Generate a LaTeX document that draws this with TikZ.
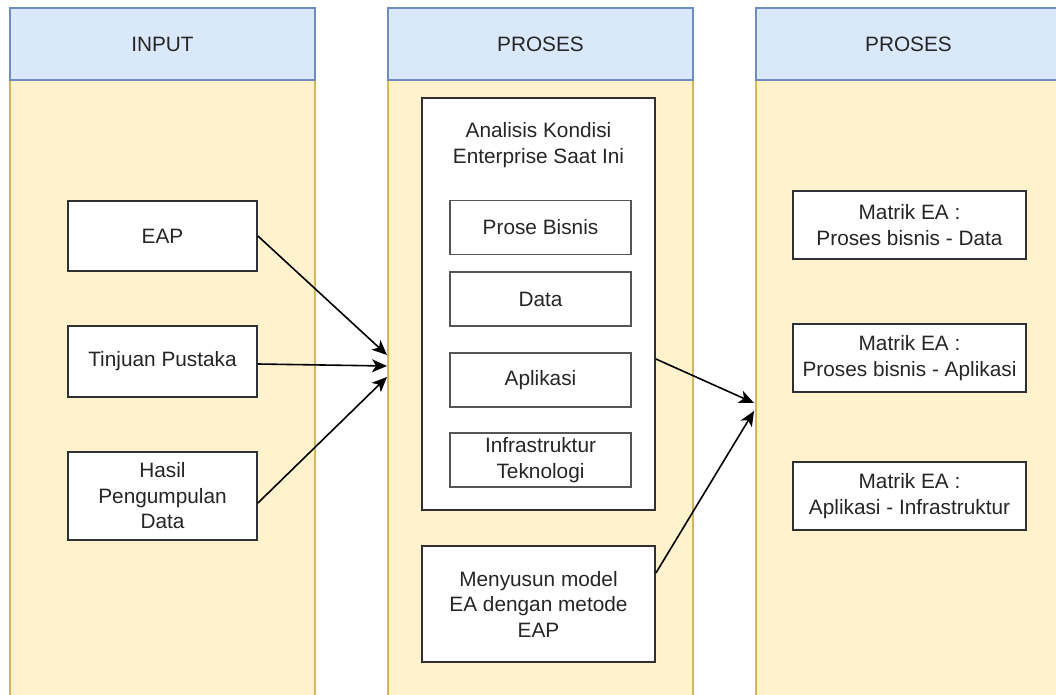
\documentclass[tikz,border=0pt]{standalone}
\usepackage{fontspec}
\setmainfont{Liberation Sans}
\usetikzlibrary{arrows.meta}
\definecolor{hdrfill}{HTML}{DAE8FC}
\definecolor{hdrline}{HTML}{6C8EBF}
\definecolor{lanefill}{HTML}{FFF2CC}
\definecolor{laneline}{HTML}{D6B656}
\definecolor{boxline}{HTML}{2E3033}
\definecolor{subline}{HTML}{555555}
\definecolor{txt}{HTML}{262626}
\tikzset{
  every node/.style={font=\fontsize{20.8}{25.5}\selectfont, text=txt, align=center, inner sep=0pt},
  lanehead/.style={draw=hdrline, fill=hdrfill, line width=1.3pt, minimum width=305pt, minimum height=72pt},
  lanebody/.style={draw=laneline, fill=lanefill, line width=1.3pt, minimum width=305pt, minimum height=630pt},
  itembox/.style={draw=boxline, fill=white, line width=1.8pt},
  subbox/.style={draw=subline, fill=white, line width=1.8pt, minimum width=181pt, minimum height=54pt},
  flow/.style={draw=black, line width=1.6pt, -{Stealth[length=15pt,width=13pt,inset=4pt]}}
}
\begin{document}
\begin{tikzpicture}[x=1pt,y=-1pt]
\useasboundingbox (0,0) rectangle (1056,695);
\clip (0,0) rectangle (1056,695);

% lanes
\node[lanebody] (body1) at (162.5,395) {};
\node[lanehead] (head1) at (162.5,44) {INPUT};
\node[lanebody] (body2) at (540.5,395) {};
\node[lanehead] (head2) at (540.5,44) {PROSES};
\node[lanebody] (body3) at (908.5,395) {};
\node[lanehead] (head3) at (908.5,44) {PROSES};

% input items
\node[itembox, minimum width=189pt, minimum height=70pt] (eap) at (162.5,236) {EAP};
\node[itembox, minimum width=189pt, minimum height=71pt] (tinjau) at (162.5,361.5) {Tinjuan Pustaka};
\node[itembox, minimum width=189pt, minimum height=88pt] (hasil) at (162.5,496) {Hasil\\Pengumpulan\\Data};

% current-state analysis
\node[itembox, minimum width=233pt, minimum height=412pt] (analisis) at (538.5,304) {};
\node (analisisT) at (538.5,145) {Analisis Kondisi\\Enterprise Saat Ini};
\node[subbox] (bisnis) at (540.5,227.5) {Prose Bisnis};
\node[subbox] (data) at (540.5,299) {Data};
\node[subbox] (aplikasi) at (540.5,380) {Aplikasi};
\node[subbox, line width=1.5pt] (infra) at (540.5,460) {Infrastruktur\\Teknologi};

% model building
\node[itembox, minimum width=233pt, minimum height=116pt] (model) at (538.5,604) {Menyusun model\\EA dengan metode\\EAP};

% output matrices
\node[itembox, minimum width=233pt, minimum height=68pt] (m1) at (909.5,225) {Matrik EA :\\Proses bisnis - Data};
\node[itembox, minimum width=233pt, minimum height=68pt] (m2) at (909.5,358) {Matrik EA :\\Proses bisnis - Aplikasi};
\node[itembox, minimum width=233pt, minimum height=68pt] (m3) at (909.5,496) {Matrik EA :\\Aplikasi - Infrastruktur};

% arrow targets
\coordinate (t1) at (387,355);
\coordinate (t2) at (387,366);
\coordinate (t3) at (387,377);
\coordinate (t4) at (754,403);
\coordinate (t5) at (754,411);

\draw[flow] (eap.east) -- (t1);
\draw[flow] ([yshift=-2.5pt]tinjau.east) -- (t2);
\draw[flow] ([yshift=-7pt]hasil.east) -- (t3);
\draw[flow] ([yshift=-55pt]analisis.east) -- (t4);
\draw[flow] ([yshift=31pt]model.east) -- (t5);
\end{tikzpicture}
\end{document}
